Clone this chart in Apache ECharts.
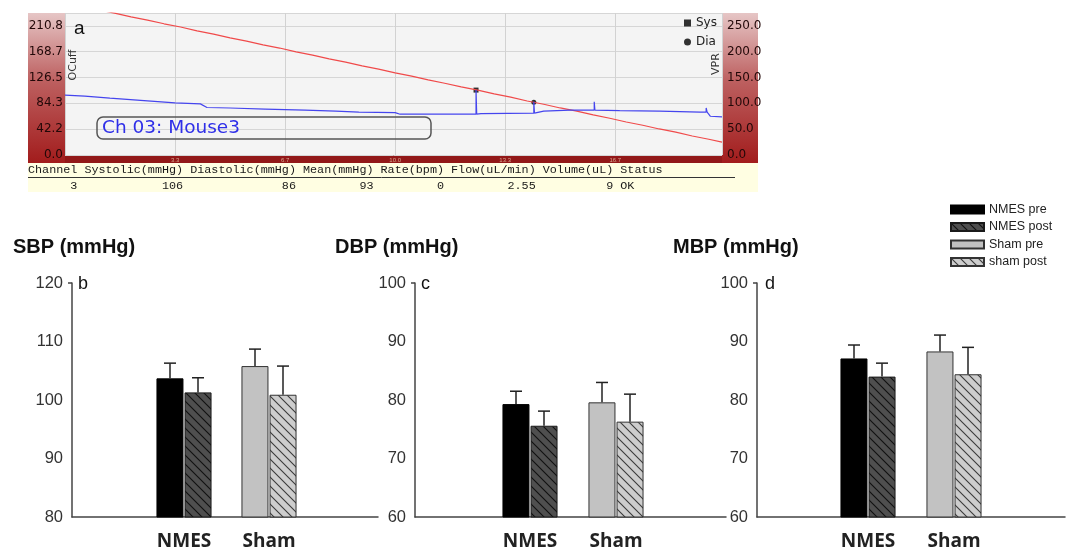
<!DOCTYPE html>
<html>
<head>
<meta charset="utf-8">
<script src="https://cdn.jsdelivr.net/npm/echarts@6/dist/echarts.min.js"></script>
<style>html,body{margin:0;padding:0;background:#fff}#main{width:1075px;height:550px}</style>
</head>
<body>
<div id="main"></div>
<script>
// ---------- Panel a data (screenshot of recording) ----------
const timeTicks = [3.3, 6.7, 10.0, 13.3, 16.7];
const cuffLeftTicks = ['0.0', '42.2', '84.3', '126.5', '168.7', '210.8'];
// cuff pressure (OCuff, left scale, mmHg): [time, value]
const cuffPressure = [
  [0, 248.7], [0.5, 243.2], [1, 237.1], [1.5, 231.7], [2, 225.6], [2.5, 220.3], [3, 214.2], [3.5, 208.9],
  [4, 202.7], [4.5, 197.4], [5, 191.3], [5.5, 186.0], [6, 179.9], [6.5, 174.6], [7, 168.4], [7.5, 163.1],
  [8, 157.0], [8.5, 151.7], [9, 145.5], [9.5, 140.2], [10, 134.1], [10.5, 128.8], [11, 122.7], [11.5, 117.3],
  [12, 111.2], [12.5, 105.9], [13, 99.8], [13.5, 94.5], [14, 88.3], [14.5, 83.0], [15, 76.9], [15.5, 71.6],
  [16, 65.5], [16.5, 60.1], [17, 54.0], [17.5, 48.7], [18, 42.6], [18.5, 37.3], [19, 31.1], [19.5, 25.8], [19.9, 21.0]
];
// VPR signal (right scale): [time, value]
const vprSignal = [
  [0, 116], [0.6, 114], [1.36, 110], [2.5, 105], [3.33, 101], [4.1, 99], [4.3, 92], [5, 91], [6.06, 89],
  [7.27, 87], [8.2, 85], [8.9, 83], [10, 82], [10.15, 79], [12.45, 79], [12.45, 126], [12.47, 79], [12.6, 80],
  [14.2, 81], [14.2, 103], [14.22, 81], [14.5, 85], [15.3, 87], [16.03, 87], [16.03, 103], [16.05, 87],
  [16.8, 86], [18, 85], [19.24, 83], [19.42, 83], [19.42, 91], [19.45, 83], [19.55, 75], [19.9, 74]
];
const sysPoint = [[12.45, 106]];
const diaPoint = [[14.2, 86]];
const tableHeaders = ['Channel', 'Systolic(mmHg)', 'Diastolic(mmHg)', 'Mean(mmHg)', 'Rate(bpm)', 'Flow(uL/min)', 'Volume(uL)', 'Status'];
const tableValues = ['3', '106', '86', '93', '0', '2.55', '9', 'OK'];

// ---------- Panels b, c, d data ----------
const groups = ['NMES', 'Sham'];
const seriesNames = ['NMES pre', 'NMES post', 'Sham pre', 'sham post'];
const sbpMeans = [103.7, 101.3, 105.8, 100.9];
const sbpErr = [2.6, 2.5, 2.9, 4.9];
const dbpMeans = [79.3, 75.6, 79.6, 76.3];
const dbpErr = [2.2, 2.5, 3.4, 4.7];
const mbpMeans = [87.1, 84.0, 88.3, 84.4];
const mbpErr = [2.3, 2.3, 2.8, 4.6];
const sbpTicks = [80, 90, 100, 110, 120];
const dbpTicks = [60, 70, 80, 90, 100];
const mbpTicks = [60, 70, 80, 90, 100];
const panelTitles = ['SBP (mmHg)', 'DBP (mmHg)', 'MBP (mmHg)'];
const panelLetters = ['b', 'c', 'd'];

// ---------- layout / style ----------
function hatch(bg, line) {
  const s = 9;
  const c = document.createElement('canvas');
  c.width = s; c.height = s;
  const g = c.getContext('2d');
  g.fillStyle = bg; g.fillRect(0, 0, s, s);
  g.strokeStyle = line; g.lineWidth = 1.1;
  g.beginPath();
  g.moveTo(-1, -1); g.lineTo(s + 1, s + 1);
  g.moveTo(-s - 1, -1); g.lineTo(1, s + 1);
  g.moveTo(s - 1, -1); g.lineTo(2 * s + 1, s + 1);
  g.stroke();
  return { image: c, repeat: 'repeat' };
}
const barStyles = [
  { color: '#000000', borderColor: '#000000', borderWidth: 1 },
  { color: hatch('#4f4f4f', '#101010'), borderColor: '#1a1a1a', borderWidth: 1 },
  { color: '#c2c2c2', borderColor: '#333333', borderWidth: 1 },
  { color: hatch('#cdcdcd', '#3a3a3a'), borderColor: '#333333', borderWidth: 1 }
];
const panelData = [
  { means: sbpMeans, err: sbpErr, ticks: sbpTicks },
  { means: dbpMeans, err: dbpErr, ticks: dbpTicks },
  { means: mbpMeans, err: mbpErr, ticks: mbpTicks }
];
const panelLayout = [
  { outerLeft: 72, outerWidth: 306, innerLeft: 141.5, innerWidth: 170, titleLeft: 13, letterLeft: 78 },
  { outerLeft: 415, outerWidth: 311, innerLeft: 487, innerWidth: 172, titleLeft: 335, letterLeft: 421 },
  { outerLeft: 757, outerWidth: 308, innerLeft: 825, innerWidth: 172, titleLeft: 673, letterLeft: 765 }
];
const pTop = 283, pHeight = 234;

const LEFT_STEP = 42.16;
const grids = [{ left: 65, top: 13, width: 657, height: 142, show: true, backgroundColor: '#f4f4f4', borderWidth: 0, outerBoundsMode: 'none' }];
const xAxes = [{
  gridIndex: 0, type: 'value', min: 0, max: 19.9, interval: 10 / 3,
  axisLine: { show: false }, axisTick: { show: false },
  axisLabel: { fontSize: 6, color: '#d8a890', margin: 2, showMinLabel: false, showMaxLabel: false,
    formatter: v => { const t = timeTicks.find(t => Math.abs(t - v) < 0.05); return t !== undefined ? t.toFixed(1) : ''; } },
  splitLine: { show: true, lineStyle: { color: '#d2d2d2', width: 1 } }
}];
const yAxes = [{
  gridIndex: 0, type: 'value', position: 'left', min: 0, max: 231.9, interval: LEFT_STEP,
  axisLine: { show: false }, axisTick: { show: false },
  axisLabel: { fontSize: 12, fontFamily: 'DejaVu Sans', color: '#220808', margin: 2, showMaxLabel: false,
    formatter: v => { const i = Math.round(v / LEFT_STEP); return Math.abs(v - i * LEFT_STEP) < 0.05 && cuffLeftTicks[i] ? cuffLeftTicks[i] : ''; } },
  splitLine: { show: true, lineStyle: { color: '#d6d6d6', width: 1 } }
}, {
  gridIndex: 0, type: 'value', position: 'right', min: 0, max: 275, interval: 50,
  axisLine: { show: false }, axisTick: { show: false },
  axisLabel: { fontSize: 12, fontFamily: 'DejaVu Sans', color: '#220808', margin: 5, showMaxLabel: false,
    formatter: v => v.toFixed(1) },
  splitLine: { show: false }
}];
const series = [
  { name: 'OCuff', type: 'line', xAxisIndex: 0, yAxisIndex: 0, data: cuffPressure, showSymbol: false,
    lineStyle: { color: '#f04a4a', width: 1.1 }, itemStyle: { color: '#f04a4a' }, silent: true, clip: true },
  { name: 'VPR', type: 'line', xAxisIndex: 0, yAxisIndex: 1, data: vprSignal, showSymbol: false,
    lineStyle: { color: '#4545ee', width: 1.2 }, itemStyle: { color: '#4545ee' }, silent: true, clip: true },
  { name: 'Sys', type: 'scatter', xAxisIndex: 0, yAxisIndex: 0, data: sysPoint, symbol: 'rect', symbolSize: 5,
    itemStyle: { color: '#000' } },
  { name: 'Dia', type: 'scatter', xAxisIndex: 0, yAxisIndex: 0, data: diaPoint, symbol: 'circle', symbolSize: 5,
    itemStyle: { color: '#000' } }
];
const titles = [
  { text: 'a', left: 74, top: 19, padding: 0, textStyle: { fontSize: 19, fontWeight: 'normal', fontFamily: 'Liberation Sans', color: '#111' } },
  { text: 'Ch 03: Mouse3', left: 97, top: 117, padding: [1, 191, 1, 5], borderColor: '#555', borderWidth: 1.5, borderRadius: 6,
    textStyle: { fontSize: 18.5, lineHeight: 20, fontWeight: 'normal', fontFamily: 'DejaVu Sans', color: '#2f2fe8' } }
];

panelData.forEach((pd, i) => {
  const L = panelLayout[i];
  const gOuter = grids.length;
  grids.push({ left: L.outerLeft, top: pTop, width: L.outerWidth, height: pHeight, outerBoundsMode: 'none' });
  grids.push({ left: L.innerLeft, top: pTop, width: L.innerWidth, height: pHeight, outerBoundsMode: 'none' });
  const min = pd.ticks[0], max = pd.ticks[pd.ticks.length - 1];
  xAxes.push({ gridIndex: gOuter, type: 'value', min: 0, max: 1,
    axisLine: { show: true, onZero: false, lineStyle: { color: '#444', width: 1.5 } },
    axisTick: { show: false }, axisLabel: { show: false }, splitLine: { show: false } });
  xAxes.push({ gridIndex: gOuter + 1, type: 'category', data: groups,
    axisLine: { show: false }, axisTick: { show: false },
    axisLabel: { fontFamily: 'Open Sans', fontWeight: 'bold', fontSize: 19, color: '#222', margin: 15 } });
  yAxes.push({ gridIndex: gOuter, type: 'value', min: min, max: max, interval: 10,
    axisLine: { show: true, onZero: false, lineStyle: { color: '#444', width: 1.5 } },
    axisTick: { show: true, customValues: [max], length: 4, lineStyle: { color: '#444', width: 1.5 } },
    axisLabel: { fontSize: 16.5, fontFamily: 'Liberation Sans', color: '#333', margin: 9 },
    splitLine: { show: false } });
  yAxes.push({ gridIndex: gOuter + 1, type: 'value', min: min, max: max, show: false });
  const xIn = xAxes.length - 1, yIn = yAxes.length - 1;
  seriesNames.forEach((nm, k) => {
    const grp = k < 2 ? 0 : 1;
    const d = groups.map((g, gi) => gi === grp ? pd.means[k] : '-');
    series.push({ name: nm, type: 'bar', xAxisIndex: xIn, yAxisIndex: yIn, data: d,
      stack: (k % 2 === 0 ? 'pre' : 'post') + i, barWidth: 27, barGap: '4%', clip: true,
      itemStyle: barStyles[k], emphasis: { disabled: true } });
  });
  series.push({
    name: 'err' + i, type: 'custom', xAxisIndex: xIn, yAxisIndex: yIn, z: 5,
    data: seriesNames.map((nm, k) => [k < 2 ? 0 : 1, pd.means[k], pd.err[k], k % 2 === 0 ? -1 : 1]),
    renderItem: (params, api) => {
      const c = api.value(0), v = api.value(1), e = api.value(2), side = api.value(3);
      const p = api.coord([c, v]), q = api.coord([c, v + e]);
      const x = p[0] + side * 14;
      const st = { stroke: '#222', lineWidth: 1.5 };
      return { type: 'group', children: [
        { type: 'line', shape: { x1: x, y1: p[1], x2: x, y2: q[1] }, style: st },
        { type: 'line', shape: { x1: x - 6, y1: q[1], x2: x + 6, y2: q[1] }, style: st }
      ] };
    }
  });
  titles.push({ text: panelTitles[i], left: L.titleLeft, top: 237, padding: 0,
    textStyle: { fontSize: 20, fontWeight: 'bold', fontFamily: 'Liberation Sans', color: '#111' } });
  titles.push({ text: panelLetters[i], left: L.letterLeft, top: 275, padding: 0,
    textStyle: { fontSize: 18, fontWeight: 'normal', fontFamily: 'Liberation Sans', color: '#111' } });
});

// table strings
const headerLine = tableHeaders.join(' ');
const valuesLine = tableHeaders.map((h, i) => h === 'Status' ? tableValues[i].padEnd(h.length) : tableValues[i].padStart(h.length)).join(' ');

const stripGrad = () => new echarts.graphic.LinearGradient(0, 0, 0, 1, [
  { offset: 0, color: '#e6c6c6' }, { offset: 0.45, color: '#bd6060' }, { offset: 1, color: '#a21c1c' }
]);
const graphics = [
  { type: 'rect', z: -10, shape: { x: 28, y: 13, width: 37, height: 150 }, style: { fill: stripGrad() } },
  { type: 'rect', z: -10, shape: { x: 722, y: 13, width: 36, height: 150 }, style: { fill: stripGrad() } },
  { type: 'rect', z: -10, shape: { x: 65, y: 155, width: 657, height: 8 }, style: { fill: '#921818' } },
  { type: 'rect', z: -10, shape: { x: 28, y: 163, width: 730, height: 29 }, style: { fill: '#fffee2' } },
  { type: 'text', z: 1, x: 28, y: 170, style: { text: headerLine, fontFamily: 'Liberation Mono', fontSize: 11.75, fill: '#1a1a1a', textVerticalAlign: 'middle' } },
  { type: 'line', z: 1, shape: { x1: 28, y1: 177.5, x2: 735, y2: 177.5 }, style: { stroke: '#333', lineWidth: 1 } },
  { type: 'text', z: 1, x: 28, y: 186, style: { text: valuesLine, fontFamily: 'Liberation Mono', fontSize: 11.75, fill: '#1a1a1a', textVerticalAlign: 'middle' } },
  { type: 'text', z: 3, x: 73, y: 65, rotation: Math.PI / 2, style: { text: 'OCuff', fontFamily: 'DejaVu Sans', fontSize: 11, fill: '#333', textAlign: 'center', textVerticalAlign: 'middle' } },
  { type: 'text', z: 3, x: 716, y: 64, rotation: Math.PI / 2, style: { text: 'VPR', fontFamily: 'DejaVu Sans', fontSize: 11, fill: '#333', textAlign: 'center', textVerticalAlign: 'middle' } }
];

const chart = echarts.init(document.getElementById('main'));
chart.setOption({
  animation: false,
  backgroundColor: '#ffffff',
  title: titles,
  grid: grids,
  xAxis: xAxes,
  yAxis: yAxes,
  legend: [
    { data: ['Sys', 'Dia'], orient: 'vertical', left: 684, top: 17, padding: 0, itemWidth: 7, itemHeight: 7, itemGap: 7,
      selectedMode: false, textStyle: { fontSize: 12, fontFamily: 'DejaVu Sans', color: '#222' } },
    { data: seriesNames, orient: 'vertical', left: 950, top: 203, padding: 0, itemWidth: 33, itemHeight: 8, itemGap: 4.5,
      icon: 'rect', selectedMode: false, textStyle: { fontSize: 12.5, fontFamily: 'Liberation Sans', color: '#222' } }
  ],
  graphic: graphics,
  series: series
});
</script>
</body>
</html>
